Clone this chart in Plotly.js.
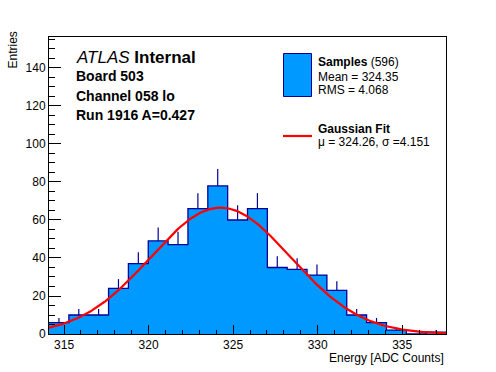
<!DOCTYPE html>
<html>
<head>
<meta charset="utf-8">
<script src="https://cdn.plot.ly/plotly-3.0.1.min.js"></script>
<style>html,body{margin:0;padding:0;background:#fff;}#chart{width:496px;height:372px;}</style>
</head>
<body>
<div id="chart"></div>
<script>
// ---- data ----
const binLow = 314.11;          // lower edge of first bin
const binWidth = 1.174;         // bin width (ADC counts)
const counts = [6, 10, 10, 24, 37, 49, 47, 66, 78, 60, 66, 35, 34, 31, 23, 10, 6, 2, 0, 1];
const xTickVals = [315, 320, 325, 330, 335];
const yTickVals = [0, 20, 40, 60, 80, 100, 120, 140];
const fitMu = 324.26;
const fitSigma = 4.151;
const fitAmp = 66.5;
const legendSamples = 596;
const legendMean = "324.35";
const legendRMS = "4.068";

// ---- derived ----
const nb = counts.length;
const edges = [], centers = [], errs = [];
for (let i = 0; i <= nb; i++) edges.push(binLow + i * binWidth);
for (let i = 0; i < nb; i++) { centers.push(binLow + (i + 0.5) * binWidth); errs.push(Math.sqrt(counts[i])); }
const stepY = counts.concat([counts[nb - 1]]);
const xMin = edges[0], xMax = edges[nb];
const fx = [], fy = [];
for (let k = 0; k <= 400; k++) {
  const x = xMin + (xMax - xMin) * k / 400;
  fx.push(x);
  fy.push(fitAmp * Math.exp(-0.5 * Math.pow((x - fitMu) / fitSigma, 2)));
}

const FONT = "Liberation Sans, Arial, Helvetica, sans-serif";
const W = 496, H = 372, ML = 49, MR = 50, MT = 37, MB = 38;
const PW = W - ML - MR, PH = H - MT - MB;
const px = v => (v - ML) / PW;
const py = v => (H - MB - v) / PH;

const traces = [
  { type: 'bar', x: centers, y: counts, width: binWidth,
    marker: { color: '#0099ff', line: { width: 0 } }, hoverinfo: 'skip', showlegend: false },
  { type: 'scatter', mode: 'markers', x: centers, y: counts,
    marker: { size: 0.1, color: 'rgba(0,0,0,0)' },
    error_y: { type: 'data', symmetric: false, array: errs, arrayminus: counts.map(() => 0),
               width: 0, thickness: 1.2, color: '#000099' },
    hoverinfo: 'skip', showlegend: false },
  { type: 'scatter', mode: 'lines', x: edges, y: stepY,
    line: { shape: 'hv', color: '#000099', width: 1.3 }, hoverinfo: 'skip', showlegend: false },
  { type: 'scatter', mode: 'lines', x: fx, y: fy,
    line: { color: '#ff0000', width: 2.2 }, hoverinfo: 'skip', showlegend: false }
];

const ann = (x, y, text, size, extra) => Object.assign({
  xref: 'paper', yref: 'paper', x: px(x), y: py(y), text: text, showarrow: false,
  xanchor: 'left', yanchor: 'middle', font: { family: FONT, size: size, color: '#000' }
}, extra || {});

const layout = {
  width: W, height: H,
  margin: { l: ML, r: MR, t: MT, b: MB, pad: 0 },
  paper_bgcolor: '#fff', plot_bgcolor: '#fff',
  font: { family: FONT, size: 12, color: '#000' },
  bargap: 0,
  xaxis: {
    range: [xMin, xMax], tickvals: xTickVals, ticktext: xTickVals.map(String),
    ticks: 'inside', ticklen: 9, tickwidth: 1, tickcolor: '#000',
    minor: { dtick: 1, tick0: 315, ticks: 'inside', ticklen: 4.5, tickwidth: 1, tickcolor: '#000' },
    showline: true, linecolor: '#000', linewidth: 1, mirror: true,
    showgrid: false, zeroline: false, tickfont: { family: FONT, size: 12 }
  },
  yaxis: {
    range: [0, 156.3], tickvals: yTickVals, ticktext: yTickVals.map(String),
    ticks: 'inside', ticklen: 12, tickwidth: 1, tickcolor: '#000',
    minor: { dtick: 5, tick0: 0, ticks: 'inside', ticklen: 6, tickwidth: 1, tickcolor: '#000' },
    showline: true, linecolor: '#000', linewidth: 1, mirror: true,
    showgrid: false, zeroline: false, tickfont: { family: FONT, size: 12 }
  },
  shapes: [
    { type: 'rect', xref: 'paper', yref: 'paper', x0: px(283.5), x1: px(311.5), y0: py(96.5), y1: py(53.5),
      fillcolor: '#0099ff', line: { color: '#000099', width: 1 } },
    { type: 'line', xref: 'paper', yref: 'paper', x0: px(283), x1: px(312), y0: py(136), y1: py(136),
      line: { color: '#ff0000', width: 2.2 } }
  ],
  annotations: [
    ann(74, 57, '<i>ATLAS</i> <b>Internal</b>', 17),
    ann(74, 76, '<b>Board 503</b>', 14),
    ann(74, 96, '<b>Channel 058 lo</b>', 14),
    ann(74, 115, '<b>Run 1916 A=0.427</b>', 14),
    ann(316, 62, '<b>Samples</b> (' + legendSamples + ')', 12),
    ann(316, 77, 'Mean = ' + legendMean, 12),
    ann(316, 90, 'RMS = ' + legendRMS, 12),
    ann(316, 129, '<b>Gaussian Fit</b>', 12),
    ann(316, 142, '\u03bc = ' + fitMu.toFixed(2) + ', \u03c3 =' + fitSigma.toFixed(3), 12),
    ann(446, 358, 'Energy [ADC Counts]', 12, { xanchor: 'right' }),
    ann(12, 30, 'Entries', 12, { xanchor: 'center', yanchor: 'top', textangle: -90 })
  ]
};

Plotly.newPlot('chart', traces, layout, { staticPlot: true, displayModeBar: false });
</script>
</body>
</html>
